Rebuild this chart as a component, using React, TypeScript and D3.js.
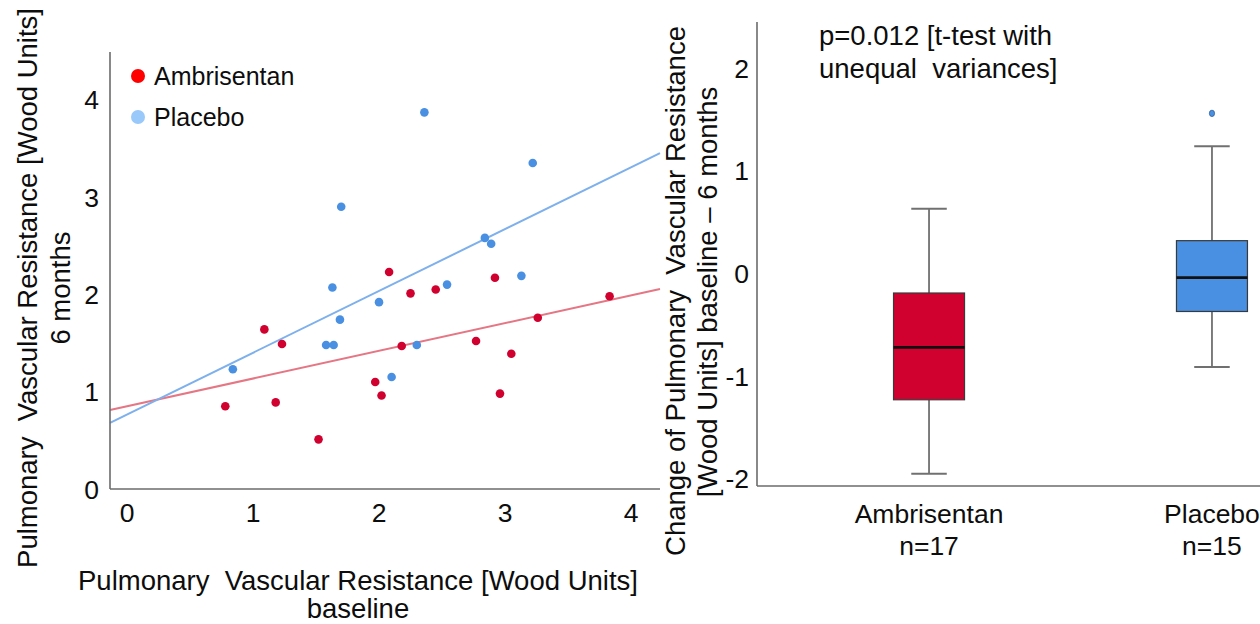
import React from "react";
import * as d3 from "d3";

// ---- Scatter data (left panel) ----
const ambriBaseline = [0.78, 1.18, 1.09, 1.23, 1.52, 2.08, 2.25, 2.45, 2.18, 1.97, 2.02, 2.77, 2.92, 3.05, 2.96, 3.26, 3.83];
const ambriSixMonths = [0.85, 0.89, 1.64, 1.49, 0.51, 2.23, 2.01, 2.05, 1.47, 1.10, 0.96, 1.52, 2.17, 1.39, 0.98, 1.76, 1.98];
const placeboBaseline = [0.84, 1.63, 1.69, 1.58, 1.64, 2.0, 2.1, 2.3, 2.54, 3.13, 2.36, 3.22, 1.7, 2.84, 2.89];
const placeboSixMonths = [1.23, 2.07, 1.74, 1.48, 1.48, 1.92, 1.15, 1.48, 2.1, 2.19, 3.87, 3.35, 2.9, 2.58, 2.52];
// regression lines: [intercept, slope]
const ambriFit = [0.85, 0.285];
const placeboFit = [0.765, 0.635];
const scatterXTicks = [0, 1, 2, 3, 4];
const scatterYTicks = [0, 1, 2, 3, 4];

// ---- Box plot data (right panel) ----
const groups = ["Ambrisentan", "Placebo"];
const groupN = ["n=17", "n=15"];
const whiskerLow = [-1.95, -0.91];
const q1 = [-1.23, -0.37];
const median = [-0.72, -0.04];
const q3 = [-0.19, 0.32];
const whiskerHigh = [0.63, 1.24];
const outliers = [[], [1.56]];
const boxYTicks = [-2, -1, 0, 1, 2];

const FONT = "'Liberation Sans', Arial, sans-serif";
const RED = "#d0002f";
const BLUE = "#4a90e2";
const AXIS = "#6b6b6b";
const TXT = "#0d0d0d";

export default function App() {
  // left scales
  const x = d3.scaleLinear().domain([-0.135, 4.23]).range([110, 660]);
  const y = d3.scaleLinear().domain([0, 4.49]).range([489, 52]);
  // right scales
  const by = d3.scaleLinear().domain([-2.07, 2.45]).range([486, 22]);
  const bx = d3.scalePoint<string>().domain(groups).range([757, 1384]).padding(0.608);
  const boxW = 71;

  const fitLine = (fit: number[]) =>
    d3.line<number>().x((d) => x(d)).y((d) => y(fit[0] + fit[1] * d))(x.domain());

  const ambri = ambriBaseline.map((b, i) => [b, ambriSixMonths[i]]);
  const plac = placeboBaseline.map((b, i) => [b, placeboSixMonths[i]]);
  const fills = [RED, BLUE];

  return (
    <div style={{ position: "absolute", left: 0, top: 0 }}>
      <svg width={1260} height={624} style={{ display: "block", background: "#fff" }} fontFamily={FONT}>
        {/* ---------- Left panel ---------- */}
        <path d={fitLine(ambriFit) || ""} stroke="#e57684" strokeWidth={2} fill="none" />
        <path d={fitLine(placeboFit) || ""} stroke="#7eb0ec" strokeWidth={2} fill="none" />
        {ambri.map((d, i) => (
          <circle key={"a" + i} cx={x(d[0])} cy={y(d[1])} r={4.3} fill={RED} />
        ))}
        {plac.map((d, i) => (
          <circle key={"p" + i} cx={x(d[0])} cy={y(d[1])} r={4.3} fill={BLUE} />
        ))}
        <line x1={110} x2={110} y1={52} y2={489} stroke={AXIS} strokeWidth={1.6} />
        <line x1={110} x2={660} y1={489} y2={489} stroke={AXIS} strokeWidth={1.6} />
        {scatterYTicks.map((t) => (
          <text key={"yt" + t} x={99} y={y(t)} dy="0.36em" textAnchor="end" fontSize={26.5} fill={TXT}>
            {t}
          </text>
        ))}
        {scatterXTicks.map((t) => (
          <text key={"xt" + t} x={x(t)} y={512} dy="0.36em" textAnchor="middle" fontSize={26.5} fill={TXT}>
            {t}
          </text>
        ))}
        {/* legend */}
        <circle cx={138} cy={76} r={7} fill="#ff0000" />
        <text x={154} y={76} dy="0.36em" fontSize={25} fill={TXT}>Ambrisentan</text>
        <circle cx={138} cy={117} r={7} fill="#99c8fa" />
        <text x={154} y={117} dy="0.36em" fontSize={25} fill={TXT}>Placebo</text>
        {/* axis titles */}
        <g transform="translate(27,288) rotate(-90)">
          <text textAnchor="middle" dy="0.36em" fontSize={27.5} fill={TXT} style={{ whiteSpace: "pre" }}>
            {"Pulmonary  Vascular Resistance [Wood Units]"}
          </text>
        </g>
        <g transform="translate(60,288) rotate(-90)">
          <text textAnchor="middle" dy="0.36em" fontSize={27.5} fill={TXT}>6 months</text>
        </g>
        <text x={358} y={580} dy="0.36em" textAnchor="middle" fontSize={27.5} fill={TXT} style={{ whiteSpace: "pre" }}>
          {"Pulmonary  Vascular Resistance [Wood Units]"}
        </text>
        <text x={358} y={608} dy="0.36em" textAnchor="middle" fontSize={27.5} fill={TXT}>baseline</text>

        {/* ---------- Right panel ---------- */}
        {groups.map((g, i) => {
          const cx = bx(g) as number;
          return (
            <g key={g}>
              <line x1={cx} x2={cx} y1={by(whiskerHigh[i])} y2={by(q3[i])} stroke="#707070" strokeWidth={1.8} />
              <line x1={cx} x2={cx} y1={by(q1[i])} y2={by(whiskerLow[i])} stroke="#707070" strokeWidth={1.8} />
              <line x1={cx - boxW / 4} x2={cx + boxW / 4} y1={by(whiskerHigh[i])} y2={by(whiskerHigh[i])} stroke="#707070" strokeWidth={2} />
              <line x1={cx - boxW / 4} x2={cx + boxW / 4} y1={by(whiskerLow[i])} y2={by(whiskerLow[i])} stroke="#707070" strokeWidth={2} />
              <rect x={cx - boxW / 2} y={by(q3[i])} width={boxW} height={by(q1[i]) - by(q3[i])} fill={fills[i]} stroke="#3a3a3a" strokeWidth={1.2} />
              <line x1={cx - boxW / 2} x2={cx + boxW / 2} y1={by(median[i])} y2={by(median[i])} stroke="#111" strokeWidth={2.6} />
              {outliers[i].map((o, j) => (
                <ellipse key={j} cx={cx} cy={by(o)} rx={2.6} ry={3.2} fill={BLUE} stroke="#2d5d99" strokeWidth={0.8} />
              ))}
              <text x={cx} y={513} dy="0.36em" textAnchor="middle" fontSize={26.5} fill={TXT}>{g}</text>
              <text x={cx} y={545} dy="0.36em" textAnchor="middle" fontSize={26.5} fill={TXT}>{groupN[i]}</text>
            </g>
          );
        })}
        <line x1={757} x2={757} y1={22} y2={486} stroke={AXIS} strokeWidth={1.6} />
        <line x1={757} x2={1260} y1={486} y2={486} stroke={AXIS} strokeWidth={1.6} />
        {boxYTicks.map((t) => (
          <text key={"by" + t} x={749} y={by(t)} dy="0.36em" textAnchor="end" fontSize={26.5} fill={TXT}>
            {t}
          </text>
        ))}
        <text x={819} y={35} dy="0.36em" fontSize={27.5} fill={TXT}>p=0.012 [t-test with</text>
        <text x={819} y={68} dy="0.36em" fontSize={27.5} fill={TXT} style={{ whiteSpace: "pre" }}>{"unequal  variances]"}</text>
        <g transform="translate(675,291) rotate(-90)">
          <text textAnchor="middle" dy="0.36em" fontSize={27.5} fill={TXT} style={{ whiteSpace: "pre" }}>
            {"Change of Pulmonary  Vascular Resistance"}
          </text>
        </g>
        <g transform="translate(707,292) rotate(-90)">
          <text textAnchor="middle" dy="0.36em" fontSize={27.5} fill={TXT}>
            {"[Wood Units] baseline \u2013 6 months"}
          </text>
        </g>
      </svg>
    </div>
  );
}
